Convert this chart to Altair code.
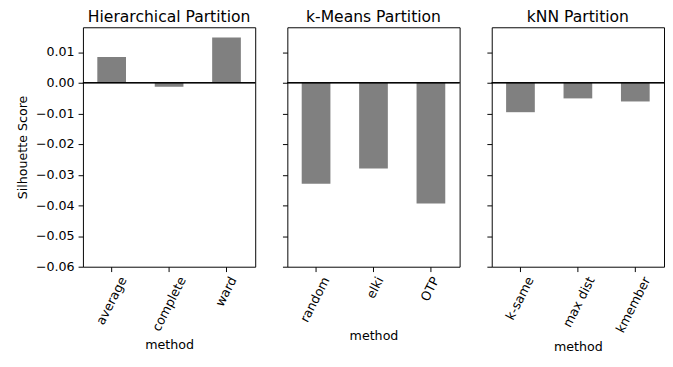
import altair as alt
import pandas as pd

hier_methods = ["average", "complete", "ward"]
hier_scores = [0.0084, -0.0013, 0.0148]

kmeans_methods = ["random", "elki", "OTP"]
kmeans_scores = [-0.0329, -0.0280, -0.0394]

knn_methods = ["k-same", "max dist", "kmember"]
knn_scores = [-0.0096, -0.0051, -0.0061]

y_ticks = [-0.06, -0.05, -0.04, -0.03, -0.02, -0.01, 0.00, 0.01]
y_domain = [-0.06, 0.0181]

FONT = "DejaVu Sans"


def panel(title, methods, scores, first):
    df = pd.DataFrame({"method": methods, "score": scores})
    yaxis = alt.Axis(
        values=y_ticks, format=".2f", grid=False, domain=False,
        tickSize=5, tickColor="black", labelPadding=4, labelOverlap=False,
        labels=first, title="Silhouette Score" if first else None,
        titlePadding=6, labelFontSize=13, titleFontSize=13,
        labelColor="black", titleColor="black",
    )
    yscale = alt.Scale(domain=y_domain, nice=False, zero=False)
    xaxis = alt.Axis(
        title="method", labelAngle=-63, labelAlign="right", labelBaseline="middle",
        labelOffset={"expr": "length(datum.label) * 1.75"}, labelOverlap=False,
        labelPadding=6, tickSize=5, tickColor="black", domain=False,
        labelFontSize=13, titleFontSize=13, labelColor="black", titleColor="black",
        titlePadding=6,
    )
    bars = alt.Chart(df).mark_bar(color="#808080").encode(
        x=alt.X("method:N", sort=methods, axis=xaxis,
                scale=alt.Scale(paddingInner=0.5, paddingOuter=0.25)),
        y=alt.Y("score:Q", axis=yaxis, scale=yscale),
    )
    rule = alt.Chart(df).mark_rule(color="black", strokeWidth=1).encode(
        y=alt.YDatum(0, axis=yaxis, scale=yscale)
    )
    return alt.layer(bars, rule).properties(
        width=177, height=246,
        title=alt.TitleParams(title, fontSize=16, font=FONT, fontWeight="normal",
                              offset=2, color="black"),
    )


chart = alt.hconcat(
    panel("Hierarchical Partition", hier_methods, hier_scores, True),
    panel("k-Means Partition", kmeans_methods, kmeans_scores, False),
    panel("kNN Partition", knn_methods, knn_scores, False),
    spacing=26,
).properties(padding={"left": 8, "top": -4, "right": 0, "bottom": 0}).configure_view(
    stroke="black", strokeWidth=1
).configure_axis(
    labelFont=FONT, titleFont=FONT, titleFontWeight="normal",
    labelFontSize=13, titleFontSize=13, labelColor="black", titleColor="black",
).configure_title(font=FONT)

chart.save("out.html", embed_options={"renderer": "svg", "actions": False})
